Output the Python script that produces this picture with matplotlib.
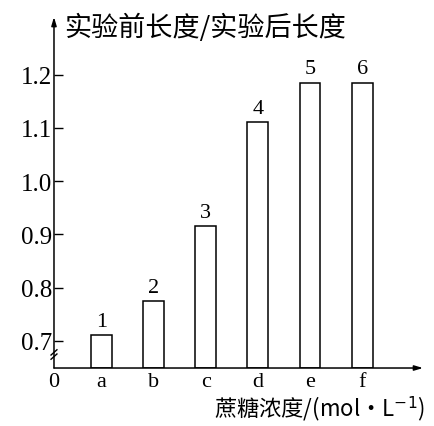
import matplotlib
matplotlib.use("Agg")
import matplotlib.pyplot as plt
import numpy as np

plt.rcParams['font.family'] = ['Liberation Serif', 'Noto Sans CJK SC', 'DejaVu Sans']

categories = ['a', 'b', 'c', 'd', 'e', 'f']
bar_numbers = ['1', '2', '3', '4', '5', '6']
ratios = [0.711, 0.775, 0.915, 1.111, 1.185, 1.185]
y_ticks = [0.7, 0.8, 0.9, 1.0, 1.1, 1.2]
y_tick_labels = ['0.7', '0.8', '0.9', '1.0', '1.1', '1.2']
y_title = '实验前长度/实验后长度'
x_title = '蔗糖浓度/(mol·L$^{-1}$)'

fig = plt.figure(figsize=(4.34, 4.27), dpi=100)
ax = fig.add_axes([0.1244, 0.1358, 0.9747 - 0.1244, 0.9578 - 0.1358])

x0, x1 = 0.096, 7.165
y0, y1 = 0.6493, 1.3079
ax.set_xlim(x0, x1)
ax.set_ylim(y0, y1)

xs = np.arange(1, len(categories) + 1)
vals = np.array(ratios)
ax.bar(xs, vals - y0, bottom=y0, width=0.4, facecolor='white',
       edgecolor='black', linewidth=1.1, zorder=2)
for x, v, n in zip(xs, vals, bar_numbers):
    ax.text(x, v + 0.008, n, ha='center', va='bottom', fontsize=16,
            family='Liberation Serif')

for s in ax.spines.values():
    s.set_visible(False)

# axes with arrows
ax.annotate('', xy=(1.0, 0), xytext=(0, 0), xycoords='axes fraction',
            arrowprops=dict(arrowstyle='-|>,head_length=0.5,head_width=0.15',
                            lw=1.1, color='black', shrinkA=0, shrinkB=0))
ax.annotate('', xy=(0, 1.0), xytext=(0, 0), xycoords='axes fraction',
            arrowprops=dict(arrowstyle='-|>,head_length=0.5,head_width=0.15',
                            lw=1.1, color='black', shrinkA=0, shrinkB=0))

# break marks on y axis
for dy in (0.0, 0.012):
    ax.plot([-0.008, 0.008], [0.025 + dy, 0.040 + dy], transform=ax.transAxes,
            color='black', lw=1.0, clip_on=False)

ax.set_yticks(y_ticks)
ax.set_yticklabels(y_tick_labels)
ax.tick_params(axis='y', direction='in', length=6.5, width=1.0, pad=1,
               labelsize=18)
ax.set_xticks([x0] + list(xs))
ax.set_xticklabels(['0'] + categories)
ax.tick_params(axis='x', length=0, pad=3, labelsize=16)

fig.text(64 / 434, 1 - 28 / 427, y_title, ha='left', va='center',
         fontsize=19.5, family=['Noto Sans CJK SC', 'DejaVu Sans'])
fig.text(425 / 434, 1 - 409 / 427, x_title, ha='right', va='center',
         fontsize=16, family=['Noto Sans CJK SC', 'DejaVu Sans'])

fig.savefig('out.png', dpi=100)
